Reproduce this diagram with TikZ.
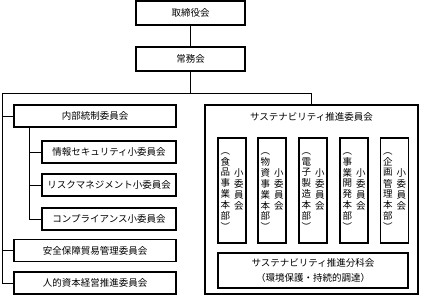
\documentclass[tikz,border=0pt]{standalone}
\usepackage{fontspec}
\newfontfamily\jpfont{Noto Sans CJK JP}

\newcommand\tatetext[1]{%
  \begin{tabular}{@{}c@{\hspace{4pt}}c@{}}
    \begin{tabular}[c]{@{}c@{}}#1\end{tabular} &
    \begin{tabular}[c]{@{}c@{}}小\\委\\員\\会\end{tabular}
  \end{tabular}}

\begin{document}
\begin{tikzpicture}[
    x=1pt, y=-1pt,
    every node/.style={font=\jpfont\fontsize{9.5}{10}\selectfont, inner sep=0pt},
    box/.style={draw, line width=1.4pt, align=center},
    topbox/.style={box, line width=1.8pt, minimum width=109pt, minimum height=24pt},
    leftbox/.style={box, minimum width=162pt, minimum height=22pt},
    subbox/.style={box, minimum width=134pt, minimum height=22pt},
    tatebox/.style={box, line width=1.2pt, minimum width=28pt, minimum height=105pt},
    link/.style={line width=0.9pt},
  ]

  \useasboundingbox (0,0) rectangle (423,301);

  \node[topbox] (board) at (190.5,13) {取締役会};
  \node[topbox] (jomu) at (190.5,59) {常務会};

  \node[leftbox] (naibu) at (95,116) {内部統制委員会};
  \node[subbox] (joho) at (109,152) {情報セキュリティ小委員会};
  \node[subbox] (risk) at (109,185) {リスクマネジメント小委員会};
  \node[subbox] (comp) at (109,219) {コンプライアンス小委員会};
  \node[leftbox] (anzen) at (95,250.5) {安全保障貿易管理委員会};
  \node[leftbox] (jinteki) at (95,283) {人的資本経営推進委員会};

  \node[box, line width=1.8pt, minimum width=213pt, minimum height=189pt] (sus) at (311.5,199.5) {};
  \node (susname) at (311.5,117) {サステナビリティ推進委員会};
  \node[tatebox] (shokuhin) at (232,190.5) {\tatetext{︵\\食\\品\\事\\業\\本\\部\\︶}};
  \node[tatebox] (busshi) at (272,190.5) {\tatetext{︵\\物\\資\\事\\業\\本\\部\\︶}};
  \node[tatebox] (denshi) at (313,190.5) {\tatetext{︵\\電\\子\\製\\造\\本\\部\\︶}};
  \node[tatebox] (jigyo) at (354,190.5) {\tatetext{︵\\事\\業\\開\\発\\本\\部\\︶}};
  \node[tatebox] (kikaku) at (394.5,190.5) {\tatetext{︵\\企\\画\\管\\理\\本\\部\\︶}};
  \node[box, minimum width=190pt, minimum height=35pt] (bunka) at (313,270.5)
    {サステナビリティ推進分科会\\[5pt]（環境保護・持続的調達）};

  % connectors
  \coordinate (bus) at (190.5,93);
  \coordinate (trunk) at (2,93);
  \coordinate (branch) at (29,127);
  \draw[link] (board) -- (jomu);
  \draw[link] (jomu) -- (bus);
  \draw[link] (sus.north) |- (trunk) |- (jinteki.west);
  \draw[link] (trunk |- naibu.west) -- (naibu.west);
  \draw[link] (trunk |- anzen.west) -- (anzen.west);
  \draw[link] (branch) |- (comp.west);
  \draw[link] (branch |- joho.west) -- (joho.west);
  \draw[link] (branch |- risk.west) -- (risk.west);

\end{tikzpicture}
\end{document}
